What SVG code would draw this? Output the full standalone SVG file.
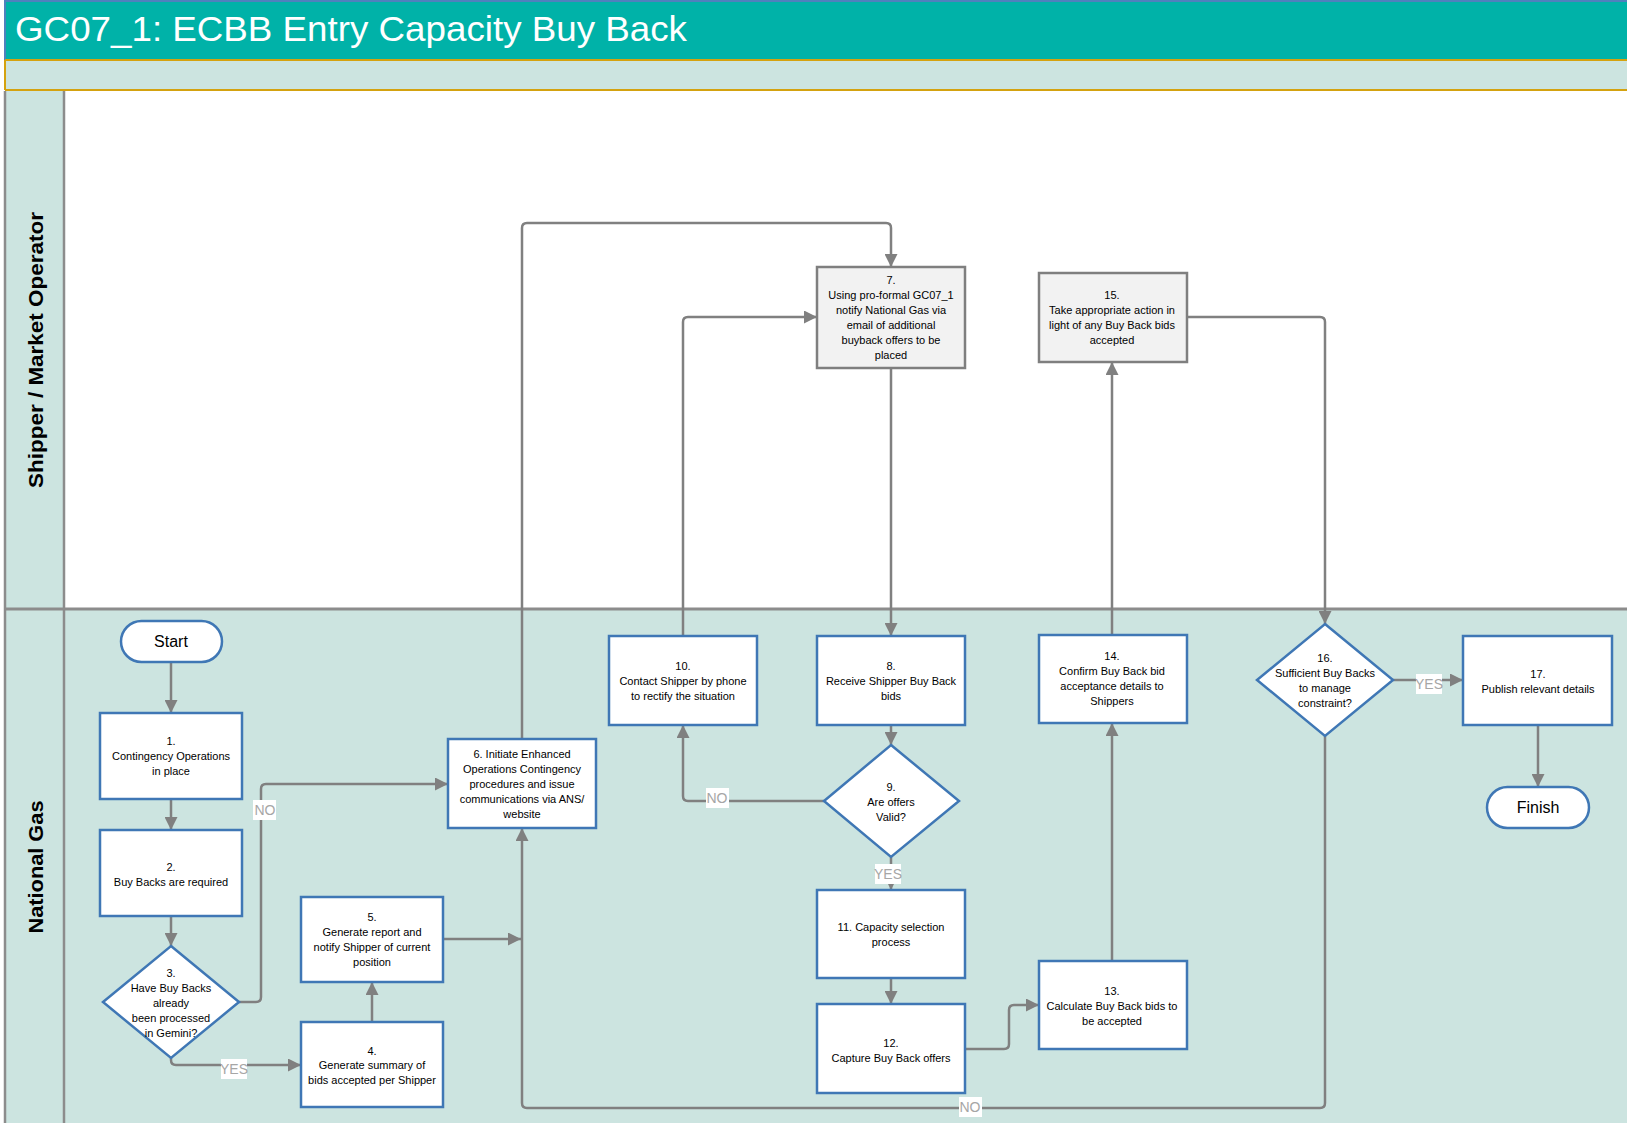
<svg xmlns="http://www.w3.org/2000/svg" width="1627" height="1123" viewBox="0 0 1627 1123">
<defs>
<marker id="ah" markerUnits="userSpaceOnUse" markerWidth="13" markerHeight="13" viewBox="0 0 13 13" refX="13" refY="6.5" orient="auto">
<path d="M0,0 L13,6.5 L0,13 Z" fill="#808080"/>
</marker>
</defs>
<style>
.box{fill:#ffffff;stroke:#3F77B5;stroke-width:2.5}
.gbox{fill:#F2F2F2;stroke:#7F7F7F;stroke-width:2.5}
.t{font-family:"Liberation Sans",Arial,sans-serif;font-size:11px;fill:#000;text-anchor:middle}
.tl{font-family:"Liberation Sans",Arial,sans-serif;font-size:16px;fill:#000;text-anchor:middle}
.c{fill:none;stroke:#808080;stroke-width:2.5;marker-end:url(#ah)}
.lb{fill:#ffffff}
.lt{font-family:"Liberation Sans",Arial,sans-serif;font-size:14px;fill:#A6A6A6;text-anchor:middle}
.lane{font-family:"Liberation Sans",Arial,sans-serif;font-size:21px;font-weight:bold;fill:#000;text-anchor:middle}
</style>
<g id="background">
<rect x="0" y="0" width="1627" height="1123" fill="#ffffff"/>
<rect x="5" y="0" width="1622" height="60" fill="#00B2A8"/>
<line x1="5" y1="1" x2="1627" y2="1" stroke="#4F81BD" stroke-width="2"/>
<line x1="5" y1="0" x2="5" y2="60" stroke="#4F81BD" stroke-width="2"/>
<text x="15" y="41" font-family="Liberation Sans,Arial,sans-serif" font-size="35" fill="#ffffff" textLength="672" lengthAdjust="spacingAndGlyphs">GC07_1: ECBB Entry Capacity Buy Back</text>
<rect x="5" y="60" width="1622" height="30" fill="#CCE4E0"/>
<line x1="5" y1="60" x2="1627" y2="60" stroke="#D4A20F" stroke-width="2"/>
<line x1="5" y1="90" x2="1627" y2="90" stroke="#D4A20F" stroke-width="2"/>
<line x1="5" y1="60" x2="5" y2="90" stroke="#D4A20F" stroke-width="2"/>
</g>
<g id="lane-shipper">
<rect x="5" y="91" width="59" height="518" fill="#CCE4E0"/>
<rect x="64" y="91" width="1563" height="518" fill="#ffffff"/>
<text class="lane" transform="translate(43,350) rotate(-90)" textLength="276" lengthAdjust="spacingAndGlyphs">Shipper / Market Operator</text>
</g>
<g id="lane-national-gas">
<rect x="5" y="609" width="59" height="514" fill="#CCE4E0"/>
<rect x="64" y="609" width="1563" height="514" fill="#CCE4E0"/>
<text class="lane" transform="translate(43,867) rotate(-90)" textLength="133" lengthAdjust="spacingAndGlyphs">National Gas</text>
</g>
<g id="lane-lines" stroke="#8C8C8C" fill="none">
<line x1="5" y1="91" x2="5" y2="1123" stroke-width="2.5"/>
<line x1="64" y1="91" x2="64" y2="1123" stroke-width="2.5"/>
<line x1="5" y1="609" x2="1627" y2="609" stroke-width="3"/>
</g>
<g id="connectors">
<path class="c" d="M171,662 V713"/>
<path class="c" d="M171,799 V830"/>
<path class="c" d="M171,916 V946"/>
<path class="c" d="M239,1002 H256 Q261,1002 261,997 V789 Q261,784 266,784 H448"/>
<path class="c" d="M171,1058 V1060 Q171,1065 176,1065 H301"/>
<path class="c" d="M372,1022 V982"/>
<path class="c" d="M443,939 H521"/>
<path class="c" d="M522,739 V228 Q522,223 527,223 H886 Q891,223 891,228 V267"/>
<path class="c" d="M891,368 V636"/>
<path class="c" d="M891,725 V745"/>
<path class="c" d="M824,801 H688 Q683,801 683,796 V725"/>
<path class="c" d="M683,636 V322 Q683,317 688,317 H817"/>
<path class="c" d="M891,857 V890"/>
<path class="c" d="M891,978 V1004"/>
<path class="c" d="M966,1049 H1004 Q1009,1049 1009,1044 V1010 Q1009,1005 1014,1005 H1039"/>
<path class="c" d="M1112,961 V723"/>
<path class="c" d="M1112,635 V362"/>
<path class="c" d="M1186,317 H1320 Q1325,317 1325,322 V624"/>
<path class="c" d="M1393,680 H1463"/>
<path class="c" d="M1538,725 V787"/>
<path class="c" d="M1325,736 V1103 Q1325,1108 1320,1108 H527 Q522,1108 522,1103 V828"/>
<rect class="lb" x="253" y="800" width="23" height="20"/>
<text class="lt" x="265" y="815">NO</text>
<rect class="lb" x="221" y="1059" width="26" height="20"/>
<text class="lt" x="234" y="1074">YES</text>
<rect class="lb" x="706" y="788" width="23" height="20"/>
<text class="lt" x="717" y="803">NO</text>
<rect class="lb" x="875" y="864" width="26" height="20"/>
<text class="lt" x="888" y="879">YES</text>
<rect class="lb" x="1416" y="674" width="26" height="20"/>
<text class="lt" x="1429" y="689">YES</text>
<rect class="lb" x="959" y="1097" width="23" height="20"/>
<text class="lt" x="970" y="1112">NO</text>
</g>
<g id="start">
<rect class="box" x="121" y="621" width="101" height="41" rx="20.5"/>
<text class="tl" x="171" y="647">Start</text>
</g>
<g id="n1">
<rect class="box" x="100" y="713" width="142" height="86"/>
<text class="t" x="171" y="745">1.</text>
<text class="t" x="171" y="760">Contingency Operations</text>
<text class="t" x="171" y="775">in place</text>
</g>
<g id="n2">
<rect class="box" x="100" y="830" width="142" height="86"/>
<text class="t" x="171" y="871">2.</text>
<text class="t" x="171" y="886">Buy Backs are required</text>
</g>
<g id="n3">
<polygon class="box" points="171,946 239,1002 171,1058 103,1002"/>
<text class="t" x="171" y="977">3.</text>
<text class="t" x="171" y="992">Have Buy Backs</text>
<text class="t" x="171" y="1007">already</text>
<text class="t" x="171" y="1022">been processed</text>
<text class="t" x="171" y="1037">in Gemini?</text>
</g>
<g id="n4">
<rect class="box" x="301" y="1022" width="142" height="85"/>
<text class="t" x="372" y="1055">4.</text>
<text class="t" x="372" y="1069">Generate summary of</text>
<text class="t" x="372" y="1084">bids accepted per Shipper</text>
</g>
<g id="n5">
<rect class="box" x="301" y="897" width="142" height="85"/>
<text class="t" x="372" y="921">5.</text>
<text class="t" x="372" y="936">Generate report and</text>
<text class="t" x="372" y="951">notify Shipper of current</text>
<text class="t" x="372" y="966">position</text>
</g>
<g id="n6">
<rect class="box" x="448" y="739" width="148" height="89"/>
<text class="t" x="522" y="758">6. Initiate Enhanced</text>
<text class="t" x="522" y="773">Operations Contingency</text>
<text class="t" x="522" y="788">procedures and issue</text>
<text class="t" x="522" y="803">communications via ANS/</text>
<text class="t" x="522" y="818">website</text>
</g>
<g id="n7">
<rect class="gbox" x="817" y="267" width="148" height="101"/>
<text class="t" x="891" y="284">7.</text>
<text class="t" x="891" y="299">Using pro-formal GC07_1</text>
<text class="t" x="891" y="314">notify National Gas via</text>
<text class="t" x="891" y="329">email of additional</text>
<text class="t" x="891" y="344">buyback offers to be</text>
<text class="t" x="891" y="359">placed</text>
</g>
<g id="n8">
<rect class="box" x="817" y="636" width="148" height="89"/>
<text class="t" x="891" y="670">8.</text>
<text class="t" x="891" y="685">Receive Shipper Buy Back</text>
<text class="t" x="891" y="700">bids</text>
</g>
<g id="n9">
<polygon class="box" points="891,745 959,801 891,857 824,801"/>
<text class="t" x="891" y="791">9.</text>
<text class="t" x="891" y="806">Are offers</text>
<text class="t" x="891" y="821">Valid?</text>
</g>
<g id="n10">
<rect class="box" x="609" y="636" width="148" height="89"/>
<text class="t" x="683" y="670">10.</text>
<text class="t" x="683" y="685">Contact Shipper by phone</text>
<text class="t" x="683" y="700">to rectify the situation</text>
</g>
<g id="n11">
<rect class="box" x="817" y="890" width="148" height="88"/>
<text class="t" x="891" y="931">11. Capacity selection</text>
<text class="t" x="891" y="946">process</text>
</g>
<g id="n12">
<rect class="box" x="817" y="1004" width="148" height="89"/>
<text class="t" x="891" y="1047">12.</text>
<text class="t" x="891" y="1062">Capture Buy Back offers</text>
</g>
<g id="n13">
<rect class="box" x="1039" y="961" width="148" height="88"/>
<text class="t" x="1112" y="995">13.</text>
<text class="t" x="1112" y="1010">Calculate Buy Back bids to</text>
<text class="t" x="1112" y="1025">be accepted</text>
</g>
<g id="n14">
<rect class="box" x="1039" y="635" width="148" height="88"/>
<text class="t" x="1112" y="660">14.</text>
<text class="t" x="1112" y="675">Confirm Buy Back bid</text>
<text class="t" x="1112" y="690">acceptance details to</text>
<text class="t" x="1112" y="705">Shippers</text>
</g>
<g id="n15">
<rect class="gbox" x="1039" y="273" width="148" height="89"/>
<text class="t" x="1112" y="299">15.</text>
<text class="t" x="1112" y="314">Take appropriate action in</text>
<text class="t" x="1112" y="329">light of any Buy Back bids</text>
<text class="t" x="1112" y="344">accepted</text>
</g>
<g id="n16">
<polygon class="box" points="1325,624 1393,680 1325,736 1257,680"/>
<text class="t" x="1325" y="662">16.</text>
<text class="t" x="1325" y="677">Sufficient Buy Backs</text>
<text class="t" x="1325" y="692">to manage</text>
<text class="t" x="1325" y="707">constraint?</text>
</g>
<g id="n17">
<rect class="box" x="1463" y="636" width="149" height="89"/>
<text class="t" x="1538" y="678">17.</text>
<text class="t" x="1538" y="693">Publish relevant details</text>
</g>
<g id="finish">
<rect class="box" x="1487" y="787" width="102" height="41" rx="20.5"/>
<text class="tl" x="1538" y="813">Finish</text>
</g>
</svg>
